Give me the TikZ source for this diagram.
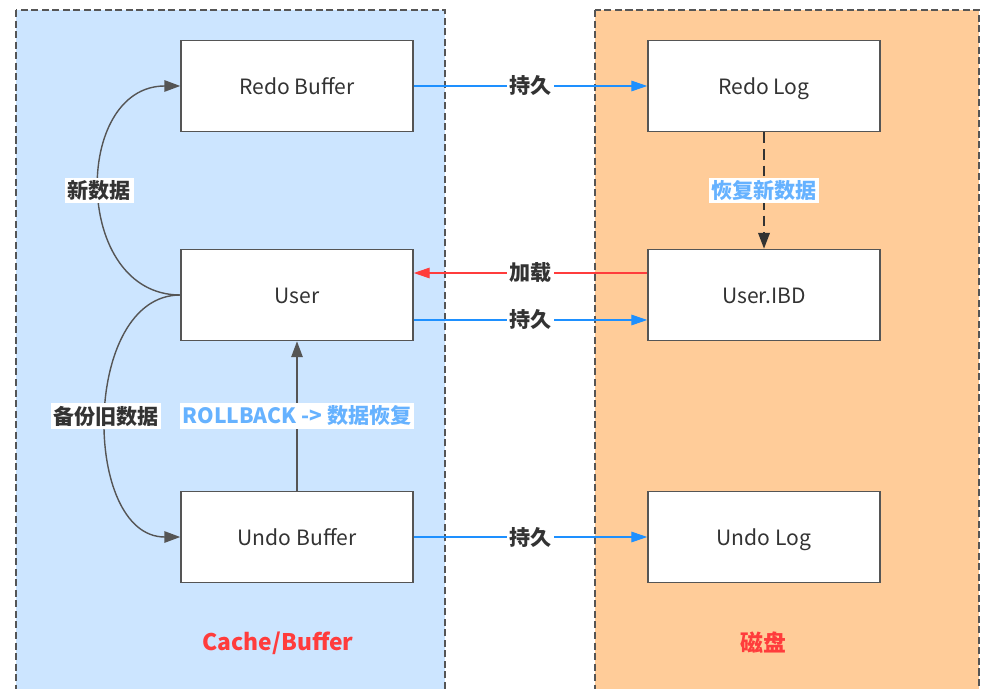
\documentclass[tikz,border=0pt]{standalone}
\usepackage{fontspec}
\setmainfont{Noto Sans CJK SC}
\usepackage{tikz}
\usetikzlibrary{arrows.meta, positioning}
\definecolor{cacheblue}{RGB}{204, 229, 255}
\definecolor{diskorange}{RGB}{255, 204, 153}
\definecolor{persistblue}{RGB}{30, 144, 255}
\definecolor{loadred}{RGB}{255, 60, 60}
\definecolor{hintblue}{RGB}{102, 178, 255}
\definecolor{boxborder}{RGB}{85, 85, 85}
\definecolor{txtgray}{RGB}{51, 51, 51}

\begin{document}
\begin{tikzpicture}[
  x=0.02cm, y=-0.02cm,
  region/.style={draw=boxborder, line width=0.8pt, dash pattern=on 4pt off 2pt},
  box/.style={rectangle, draw=boxborder, fill=white, line width=0.9pt,
              minimum width=4.64cm, minimum height=1.82cm, align=center,
              text height=2ex, text depth=0.3ex,
              font=\fontsize{12}{14}\selectfont, text=txtgray},
  lbl/.style={fill=white, inner sep=1.5pt, font=\fontsize{12}{14}\selectfont\bfseries, text=txtgray},
  hint/.style={lbl, text=hintblue},
  persist/.style={-{Triangle[length=9pt, width=6pt]}, color=persistblue, line width=0.6pt},
  load/.style={-{Triangle[length=9pt, width=6pt]}, color=loadred, line width=0.6pt},
  flow/.style={-{Triangle[length=9pt, width=6.5pt]}, color=boxborder, line width=0.8pt},
  title/.style={font=\fontsize{13}{15}\selectfont\bfseries, text=loadred}
]
\useasboundingbox (0,0) rectangle (984,689);

% the two areas
\path[region, fill=cacheblue] (16,10) rectangle (445,720);
\path[region, fill=diskorange] (595,10) rectangle (979,720);

\node[box] (redobuf) at (297,86) {Redo Buffer};
\node[box] (user) at (297,295) {User};
\node[box] (undobuf) at (297,537) {Undo Buffer};
\node[box] (redolog) at (764,86) {Redo Log};
\node[box] (useribd) at (764,295) {User.IBD};
\node[box] (undolog) at (764,537) {Undo Log};

\node[title] (cachetitle) at (278,643) {Cache/Buffer};
\node[title] (disktitle) at (763,643) {磁盘};

\draw[persist] (redobuf) -- node[lbl] {持久} (redolog);
\draw[load] ([yshift=0.44cm]useribd.west) -- node[lbl] {加载} ([yshift=0.44cm]user.east);
\draw[persist] ([yshift=-0.5cm]user.east) -- node[lbl] {持久} ([yshift=-0.5cm]useribd.west);
\draw[persist] (undobuf) -- node[lbl] {持久} (undolog);

\draw[flow, color=txtgray, line width=1.2pt, dash pattern=on 6pt off 3.5pt] (redolog) -- node[hint] {恢复新数据} (useribd);
\draw[flow] (undobuf) -- node[hint] {ROLLBACK -> 数据恢复} (user);

\draw[flow] (user.west) to[out=180, in=180, distance=2.16cm] node[lbl] {新数据} (redobuf.west);
\draw[flow] (user.west) to[out=180, in=180, distance=1.98cm] node[lbl] {备份旧数据} (undobuf.west);
\end{tikzpicture}
\end{document}
